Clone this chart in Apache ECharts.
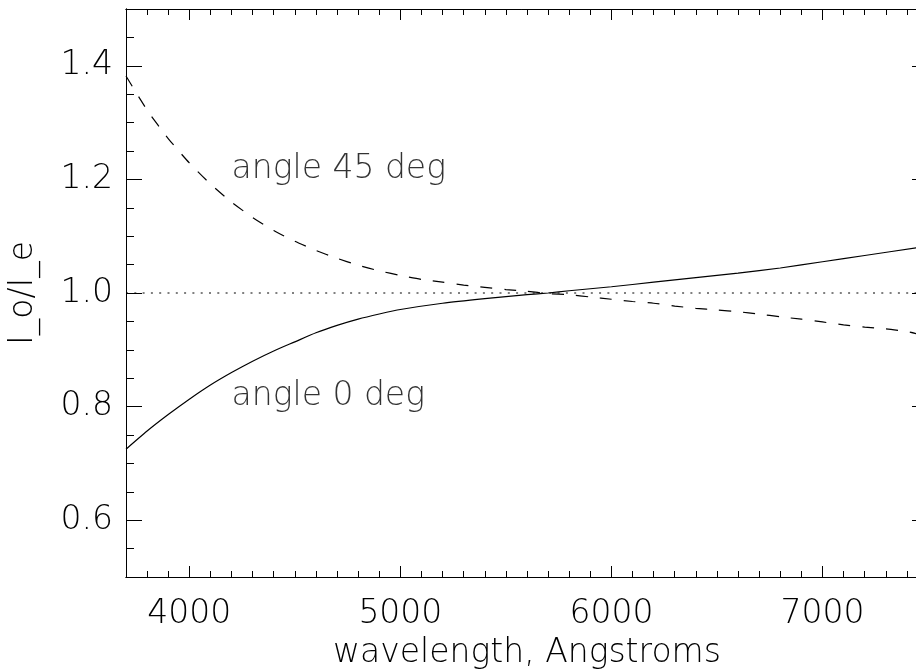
<!DOCTYPE html>
<html>
<head>
<meta charset="utf-8">
<script src="https://cdn.jsdelivr.net/npm/echarts@6/dist/echarts.min.js"></script>
<style>
  html, body { margin: 0; padding: 0; background: #fff; }
  #chart { width: 916px; height: 671px; }
</style>
</head>
<body>
<div id="chart"></div>
<script>
// wavelength grid (Angstroms)
var wave0 = [3700, 3800, 3900, 4000, 4100, 4200, 4300, 4400, 4500, 4600, 4700, 4800, 4900, 5000,
             5200, 5400, 5600, 5700, 5800, 6000, 6200, 6400, 6600, 6800, 7000, 7200, 7450];
// angle 0 deg (solid)
var ratio0 = [0.725, 0.757, 0.786, 0.813, 0.838, 0.860, 0.880, 0.898, 0.914, 0.930, 0.943, 0.954, 0.963, 0.971,
              0.982, 0.990, 0.997, 1.000, 1.004, 1.011, 1.019, 1.027, 1.035, 1.044, 1.055, 1.066, 1.080];

var wave45 = [3700, 3800, 3900, 4000, 4100, 4200, 4300, 4400, 4500, 4600, 4700, 4800, 4900, 5000,
              5100, 5200, 5300, 5400, 5500, 5600, 5700, 5800, 5900, 6000, 6100, 6200, 6300, 6400,
              6500, 6600, 6700, 6800, 6900, 7000, 7100, 7200, 7300, 7400, 7450];
// angle 45 deg (dashed)
var ratio45 = [1.382, 1.322, 1.272, 1.229, 1.192, 1.160, 1.133, 1.110, 1.091, 1.075, 1.061, 1.049, 1.039, 1.031,
               1.024, 1.019, 1.014, 1.010, 1.006, 1.003, 0.999, 0.997, 0.993, 0.989, 0.985, 0.982, 0.977, 0.973,
               0.970, 0.967, 0.963, 0.958, 0.954, 0.949, 0.944, 0.940, 0.937, 0.932, 0.928];

// reference line I_o/I_e = 1
var refX = [3700, 7500];
var refY = [1.0, 1.0];

// annotations
var noteText = ['angle 45 deg', 'angle 0 deg'];
var noteX = [4200, 4200];
var noteY = [1.2, 0.8];

var xMin = 3700, xMax = 7500;
var yMin = 0.5, yMax = 1.5;
var xMajor = [4000, 5000, 6000, 7000];
var yMajor = [0.6, 0.8, 1.0, 1.2, 1.4];

function pairs(xs, ys) {
  return xs.map(function (x, i) { return [x, ys[i]]; });
}

var font = 'DejaVu Sans';
var ink = '#000';
var fs = 33;

// helper for the box axes (major / minor, each side)
function xAx(pos, major, showLabel) {
  var a = {
    type: 'value', position: pos, min: xMin, max: xMax,
    axisLine: { show: true, onZero: false, lineStyle: { color: ink, width: 1 } },
    splitLine: { show: false },
    axisTick: { show: true, inside: true, length: major ? 11 : 6, lineStyle: { color: ink, width: 1 } },
    axisLabel: { show: false }
  };
  if (major) {
    a.axisTick.customValues = xMajor;
    a.axisLabel = {
      show: showLabel, customValues: xMajor, margin: 21,
      fontFamily: font, fontWeight: 200, fontSize: fs, color: ink,
      formatter: function (v) { return String(v); }
    };
  } else {
    a.interval = 100;
  }
  return a;
}
function yAx(pos, major, showLabel) {
  var a = {
    type: 'value', position: pos, min: yMin, max: yMax,
    axisLine: { show: true, onZero: false, lineStyle: { color: ink, width: 1 } },
    splitLine: { show: false },
    axisTick: { show: true, inside: true, length: major ? 16 : 8, lineStyle: { color: ink, width: 1 } },
    axisLabel: { show: false }
  };
  if (major) {
    a.axisTick.customValues = yMajor;
    a.axisLabel = {
      show: showLabel, customValues: yMajor, margin: 13,
      fontFamily: font, fontWeight: 200, fontSize: fs, color: ink,
      formatter: function (v) { return v.toFixed(1); }
    };
  } else {
    a.interval = 0.05;
  }
  return a;
}

var xAxes = [xAx('bottom', true, true), xAx('bottom', false), xAx('top', true, false), xAx('top', false)];
xAxes[0].name = 'wavelength, Angstroms';
xAxes[0].nameLocation = 'middle';
xAxes[0].nameGap = 60;
xAxes[0].nameMoveOverlap = false;
xAxes[0].nameTextStyle = { fontFamily: font, fontWeight: 200, fontSize: fs, color: ink };

var yAxes = [yAx('left', true, true), yAx('left', false), yAx('right', true, false), yAx('right', false)];
yAxes[0].name = 'I_o/I_e';
yAxes[0].nameLocation = 'middle';
yAxes[0].nameGap = 86;
yAxes[0].nameRotate = 90;
yAxes[0].nameMoveOverlap = false;
yAxes[0].nameTextStyle = { fontFamily: font, fontWeight: 200, fontSize: fs, color: ink };

var myChart = echarts.init(document.getElementById('chart'));
var option = {
  animation: false,
  backgroundColor: '#fff',
  grid: { left: 126, top: 9, right: -12, bottom: 94, containLabel: false, outerBoundsMode: 'none' },
  xAxis: xAxes,
  yAxis: yAxes,
  series: [
    {
      name: 'angle 0 deg', type: 'line', data: pairs(wave0, ratio0),
      showSymbol: false, smooth: 0.2,
      lineStyle: { color: ink, width: 1.2, type: 'solid' }
    },
    {
      name: 'angle 45 deg', type: 'line', data: pairs(wave45, ratio45),
      showSymbol: false, smooth: 0.2,
      lineStyle: { color: ink, width: 1.2, type: [12, 12] }
    },
    {
      name: 'unity', type: 'line', data: pairs(refX, refY),
      showSymbol: false,
      lineStyle: { color: ink, width: 1, type: [2, 6.3] }
    },
    {
      name: 'notes', type: 'scatter', symbolSize: 0,
      data: noteX.map(function (x, i) { return { value: [x, noteY[i]], name: noteText[i] }; }),
      label: {
        show: true, position: 'right', distance: 0, offset: [0, -10],
        formatter: function (p) { return p.name; },
        fontFamily: font, fontWeight: 200, fontSize: fs, color: ink
      }
    }
  ]
};
myChart.clear();
myChart.setOption(option);
</script>
</body>
</html>
